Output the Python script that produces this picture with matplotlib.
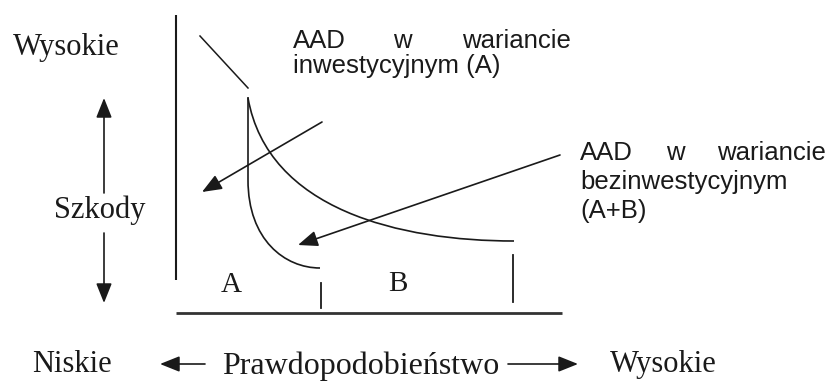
import matplotlib.pyplot as plt
from matplotlib.path import Path
from matplotlib.patches import PathPatch

# Współrzędne w pikselach obrazka (oś y w dół)
os_y_x = [176, 176]
os_y_y = [15, 280]
os_x_x = [176, 562]
os_x_y = [313, 313]

odcinek_x = [200, 248]
odcinek_y = [36, 88]

# Krzywa AAD (A): pionowy odcinek + łuk Beziera
krzywa_a_x = [248, 248, 248, 285, 320]
krzywa_a_y = [97, 180, 240, 268, 268]
# Krzywa AAD (A+B)
krzywa_b_x = [248, 268, 400, 514]
krzywa_b_y = [98, 210, 241, 241]

kreska_a_x = [321, 321]
kreska_a_y = [283, 308]
kreska_b_x = [513, 513]
kreska_b_y = [255, 302]

# strzałki: (start_x, start_y, koniec_x, koniec_y)
strzalki = [
    (322, 122, 202, 192),
    (560, 155, 298, 245),
    (104, 193, 104, 98),
    (104, 233, 104, 303),
    (205, 364, 160, 364),
    (508, 364, 578, 364),
]

opis_a = ["AAD", "w", "wariancie", "inwestycyjnym (A)"]
opis_b = ["AAD", "w", "wariancie", "bezinwestycyjnym", "(A+B)"]

kolor = '#1a1a1a'
serif = 'Liberation Serif'
sans = 'Liberation Sans'

fig = plt.figure(figsize=(8.32, 3.81), dpi=100)
ax = fig.add_axes([0, 0, 1, 1])
ax.set_xlim(0, 832)
ax.set_ylim(381, 0)
ax.axis('off')

ax.plot(os_y_x, os_y_y, color=kolor, lw=1.5, solid_capstyle='butt')
ax.plot(os_x_x, os_x_y, color='#333333', lw=2.0, solid_capstyle='butt')
ax.plot(odcinek_x, odcinek_y, color=kolor, lw=1.1)
ax.plot(kreska_a_x, kreska_a_y, color=kolor, lw=1.3)
ax.plot(kreska_b_x, kreska_b_y, color=kolor, lw=1.3)

kody_a = [Path.MOVETO, Path.LINETO, Path.CURVE4, Path.CURVE4, Path.CURVE4]
ax.add_patch(PathPatch(Path(list(zip(krzywa_a_x, krzywa_a_y)), kody_a),
                       fill=False, edgecolor=kolor, lw=1.2))
kody_b = [Path.MOVETO, Path.CURVE4, Path.CURVE4, Path.CURVE4]
ax.add_patch(PathPatch(Path(list(zip(krzywa_b_x, krzywa_b_y)), kody_b),
                       fill=False, edgecolor=kolor, lw=1.2))

for x0, y0, x1, y1 in strzalki:
    ax.annotate('', xy=(x1, y1), xytext=(x0, y0),
                arrowprops=dict(arrowstyle='-|>,head_length=0.75,head_width=0.3',
                                mutation_scale=16, color=kolor, lw=1.2,
                                shrinkA=0, shrinkB=0))

# napisy szeryfowe
ax.text(13, 55, "Wysokie", family=serif, fontsize=22, color=kolor, va='baseline')
ax.text(100, 218, "Szkody", family=serif, fontsize=22, color=kolor,
        va='baseline', ha='center')
ax.text(231, 292, "A", family=serif, fontsize=21, color=kolor,
        va='baseline', ha='center')
ax.text(398, 291, "B", family=serif, fontsize=21, color=kolor,
        va='baseline', ha='center')
ax.text(32, 372, "Niskie", family=serif, fontsize=22, color=kolor, va='baseline')
ax.text(222, 374, "Prawdopodobieństwo", family=serif, fontsize=23, color=kolor,
        va='baseline')
ax.text(610, 372, "Wysokie", family=serif, fontsize=22, color=kolor, va='baseline')

# napisy bezszeryfowe (wyjustowane)
fs = 18.5
ax.text(293, 48, opis_a[0], family=sans, fontsize=fs, color=kolor, va='baseline')
ax.text(402, 48, opis_a[1], family=sans, fontsize=fs, color=kolor, va='baseline',
        ha='center')
ax.text(462, 48, opis_a[2], family=sans, fontsize=fs, color=kolor, va='baseline')
ax.text(293, 73, opis_a[3], family=sans, fontsize=fs, color=kolor, va='baseline')

ax.text(580, 160, opis_b[0], family=sans, fontsize=fs, color=kolor, va='baseline')
ax.text(675, 160, opis_b[1], family=sans, fontsize=fs, color=kolor, va='baseline',
        ha='center')
ax.text(717, 160, opis_b[2], family=sans, fontsize=fs, color=kolor, va='baseline')
ax.text(580, 189, opis_b[3], family=sans, fontsize=fs, color=kolor, va='baseline')
ax.text(580, 218, opis_b[4], family=sans, fontsize=fs, color=kolor, va='baseline')

fig.savefig('out.png', dpi=100)
